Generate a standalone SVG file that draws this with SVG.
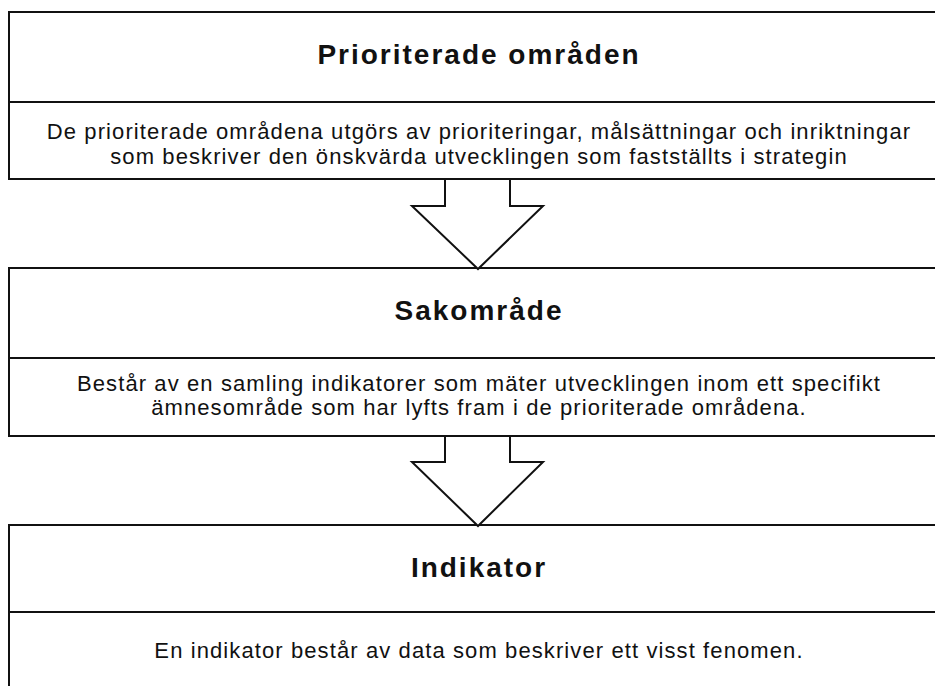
<svg xmlns="http://www.w3.org/2000/svg" width="935" height="686" viewBox="0 0 935 686">
<style>
.box{fill:#fff;stroke:#111;stroke-width:2}
.div{stroke:#111;stroke-width:2}
.arr{fill:#fff;stroke:#111;stroke-width:2;stroke-linejoin:miter}
.t{font-family:"Liberation Sans",Arial,sans-serif;font-weight:bold;font-size:28px;letter-spacing:2px;fill:#111;text-anchor:middle}
.b{font-family:"Liberation Sans",Arial,sans-serif;font-size:22px;letter-spacing:1.1px;fill:#111;text-anchor:middle}
</style>
<rect width="935" height="686" fill="#fff"/>
<g id="node-prioriterade">
<rect class="box" x="9" y="12" width="940" height="167"/>
<line class="div" x1="9" y1="102" x2="949" y2="102"/>
<text class="t" x="479" y="64">Prioriterade områden</text>
<text class="b" x="479" y="139">De prioriterade områdena utgörs av prioriteringar, målsättningar och inriktningar</text>
<text class="b" x="479" y="164">som beskriver den önskvärda utvecklingen som fastställts i strategin</text>
</g>
<g id="node-sakomrade">
<rect class="box" x="9" y="268" width="940" height="168"/>
<line class="div" x1="9" y1="358" x2="949" y2="358"/>
<text class="t" x="479" y="320">Sakområde</text>
<text class="b" x="479" y="391">Består av en samling indikatorer som mäter utvecklingen inom ett specifikt</text>
<text class="b" x="479" y="415">ämnesområde som har lyfts fram i de prioriterade områdena.</text>
</g>
<g id="node-indikator">
<rect class="box" x="9" y="525" width="940" height="180"/>
<line class="div" x1="9" y1="612" x2="949" y2="612"/>
<text class="t" x="479" y="577">Indikator</text>
<text class="b" x="479" y="658">En indikator består av data som beskriver ett visst fenomen.</text>
</g>
<g id="connectors">
<polyline class="arr" points="445,180 445,206 412,206 478,269 543,206 510,206 510,180"/>
<polyline class="arr" points="445,437 445,462 412,462 478,526 543,462 510,462 510,437"/>
</g>
</svg>
